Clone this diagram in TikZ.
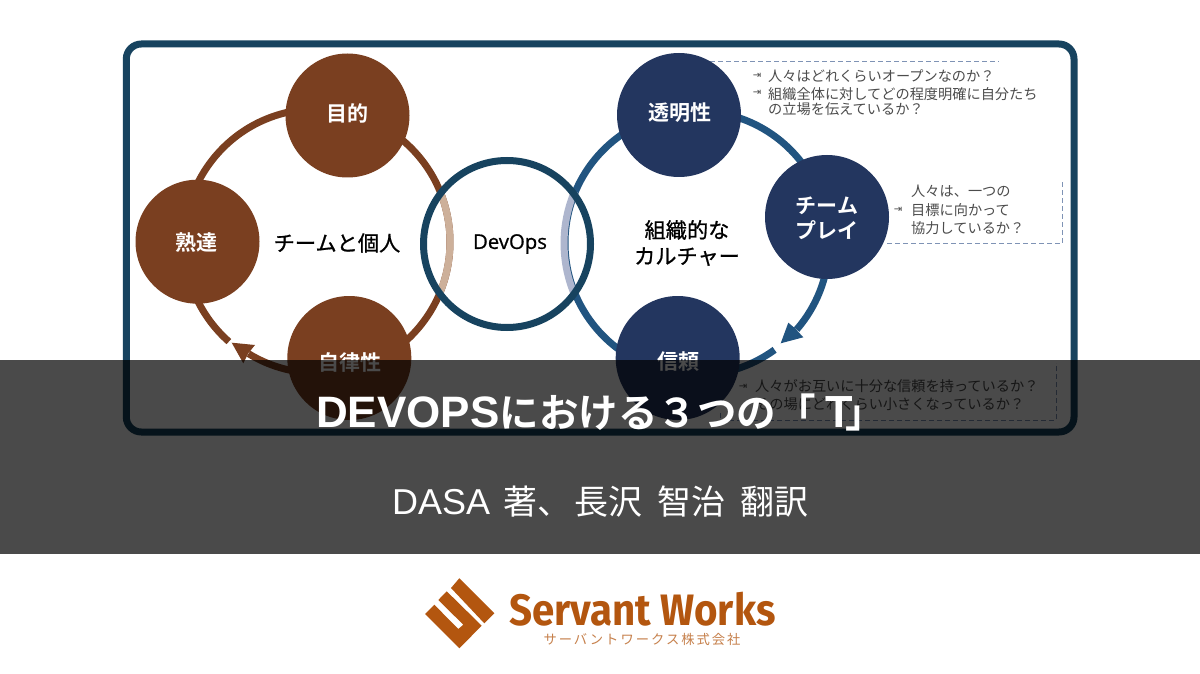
\documentclass[tikz,border=0pt]{standalone}
\usepackage{fontspec}
\usepackage{graphicx}
\setmainfont{Noto Sans CJK JP}
\newfontfamily\jpb{Noto Sans CJK JP Bold}
\newfontfamily\jpm[FakeBold=0.9]{Noto Sans CJK JP}
\newfontfamily\jpr{Noto Sans CJK JP}
\newfontfamily\lsans{Liberation Sans}
\newfontfamily\lsansb{Liberation Sans Bold}
\newfontfamily\dvu{DejaVu Sans}
\newfontfamily\dvo[FakeBold=0.8]{Open Sans}
\newfontfamily\fira{Fira Sans Bold}
\newfontfamily\jpsp[LetterSpace=15]{Noto Sans CJK JP}
\definecolor{brownc}{HTML}{7A3F20}
\definecolor{navyc}{HTML}{23365F}
\definecolor{ringb}{HTML}{215480}
\definecolor{framec}{HTML}{17435F}
\definecolor{tanc}{HTML}{CDB09A}
\definecolor{fadeb}{HTML}{AEB6CE}
\definecolor{dashc}{HTML}{7F93B5}
\definecolor{logoc}{HTML}{B3560F}
\definecolor{greyt}{HTML}{4C4C4C}
\tikzset{
  x=1pt,y=-1pt,
  ball/.style={circle,minimum size=124pt,inner sep=0pt,text=white,align=center,font=\jpb\fontsize{21}{25}\selectfont},
  brownball/.style={ball,fill=brownc},
  navyball/.style={ball,fill=navyc},
  balltext/.style={inner sep=0pt,text=white,align=center,font=\jpb\fontsize{21}{25}\selectfont},
  ringline/.style={line width=7pt},
  note/.style={anchor=west,inner sep=0pt,text=greyt,align=left,font=\jpr\fontsize{14.2}{15}\selectfont},
  bullet/.style={inner sep=0pt,text=greyt,font=\dvu\fontsize{10}{10}\selectfont},
  hub/.style={inner sep=0pt,text=black,align=center,font=\jpm\fontsize{21.2}{26}\selectfont},
  dashline/.style={draw=dashc,line width=0.9pt,dash pattern=on 5pt off 3pt},
}
\begin{document}
\begin{tikzpicture}
\useasboundingbox (0,0) rectangle (1200,674);
\fill[white] (0,0) rectangle (1200,674);
% frame
\draw[framec,line width=7pt,rounded corners=15pt] (126.3,44) rectangle (1074,432);
% left ring
\coordinate (lc) at (317,242);
\draw[ringline,brownc] (lc) ++(131.5:133) arc[start angle=131.5,end angle=460,radius=133];
\draw[ringline,brownc] (lc) ++(121.5:131) arc[start angle=121.5,end angle=100,radius=131];
\draw[ringline,tanc] (lc) ++(-22:133) arc[start angle=-22,end angle=22,radius=133];
\fill[brownc] (231.7,342.7) -- (255,345) -- (248.3,353.3) -- (243.3,363.3) -- cycle;
% right ring
\coordinate (rc) at (697,243);
\draw[ringline,ringb] (rc) ++(54:132) arc[start angle=54,end angle=401,radius=132];
\draw[ringline,fadeb] (rc) ++(158:133) arc[start angle=158,end angle=203,radius=132.5];
\fill[ringb] (780.7,343.3) -- (803.3,337.3) -- (795,328.3) -- (788.3,322.7) -- cycle;
% dashed guides
\draw[dashline] (710,61.7) -- (999,61.7);
\draw[dashline] (887,243) -- (1062.7,243) -- (1062.7,182);
\draw[dashline] (720,413) -- (720,420) -- (1056,420) -- (1056,363);
% circles
\node[brownball] (goal) at (347.5,115.5) {};
\node[balltext] (goalt) at (347.5,113) {目的};
\node[brownball] (mastery) at (197.5,241.7) {};
\node[balltext] (masteryt) at (196,243) {熟達};
\node[brownball] (autonomy) at (349.3,358) {};
\node[balltext] (autonomyt) at (350,363) {自律性};
\node[navyball] (transp) at (679,115) {};
\node[balltext] (transpt) at (680,113) {透明性};
\node[navyball] (teamplay) at (827,217) {};
\node[balltext] (teamplayt) at (827,218) {チーム\\プレイ};
\node[navyball] (trust) at (677.7,358) {};
\node[balltext] (trustt) at (678,362) {信頼};
% devops
\node[circle,draw=framec,line width=7pt,minimum size=167pt,inner sep=0pt] (devops) at (507,244) {};
\node[inner sep=0pt,text=black,font=\dvo\fontsize{20.3}{26}\selectfont] (devopst) at (510,244) {DevOps};
% hub labels
\node[hub] (teamind) at (337,243) {チームと個人};
\node[hub] (orgcult) at (687,243) {組織的な\\カルチャー};
% notes
\node[bullet] (b1) at (757,76) {⇥};
\node[bullet] (b2) at (757,93) {⇥};
\node[note] (n1) at (768,76) {人々はどれくらいオープンなのか？};
\node[note] (n2) at (768,102) {組織全体に対してどの程度明確に自分たち\\の立場を伝えているか？};
\node[bullet] (b3) at (898,210) {⇥};
\node[note,font=\jpr\fontsize{14.2}{18.2}\selectfont] (n3) at (911,210) {人々は、一つの\\目標に向かって\\協力しているか？};
\node[bullet] (b4) at (743,387) {⇥};
\node[note] (n4) at (755,386) {人々がお互いに十分な信頼を持っているか？};
\node[note] (n5) at (755,404) {その場にどれくらい小さくなっているか？};
% overlay band
\fill[black,opacity=0.71] (0,360) rectangle (1200,553.5);
% title
\node[inner sep=0pt,anchor=west,text=white,font=\jpb\fontsize{39.5}{44}\selectfont] (title) at (316,412) {{\lsansb\fontsize{44}{44}\selectfont DEVOPS}における３つの「\kern10pt{\lsansb\fontsize{45}{44}\selectfont T}\kern-8pt」};
\node[inner sep=0pt,anchor=west,text=white,font=\jpr\fontsize{34}{40}\selectfont] (sub) at (392,502) {{\lsans\fontsize{36}{40}\selectfont DASA}\kern13pt 著、\kern3pt 長沢\kern15pt 智治\kern15pt 翻訳};
% logo
\fill[logoc] (459.3,578.3) -- (494.3,613.3) -- (484.3,623.3) -- (451,588) -- cycle;
\fill[logoc] (446.7,591.3) -- (481.7,625.7) -- (459.3,648.3) -- (425,614) -- (434.3,604.7) -- (458.3,629) -- (463.3,624.7) -- (438.3,600) -- cycle;
\node[inner sep=0pt,anchor=west,text=logoc] (brand) at (509,609) {\scalebox{0.915}[1]{\fira\fontsize{44}{50}\selectfont Servant Works}};
\node[inner sep=0pt,text=logoc!75,font=\jpsp\fontsize{13.3}{15}\selectfont] (brandsub) at (642,639.5) {サーバントワークス株式会社};
\end{tikzpicture}
\end{document}
